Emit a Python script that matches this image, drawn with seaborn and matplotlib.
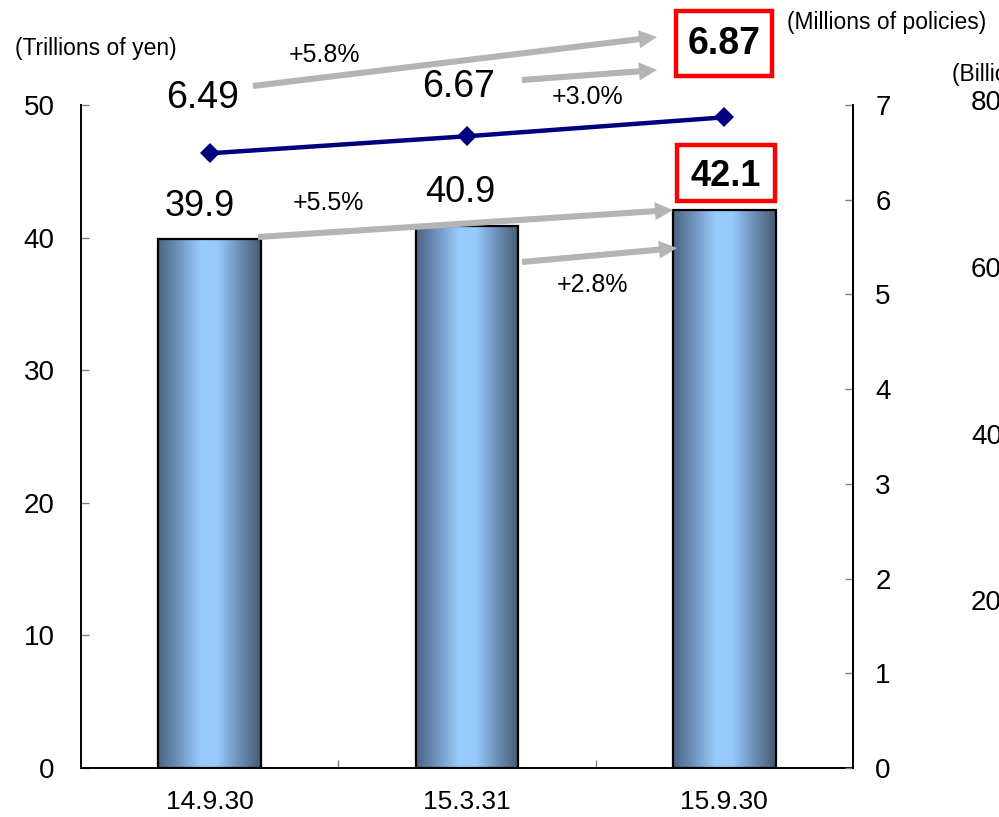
import numpy as np
import pandas as pd
import matplotlib
matplotlib.use("Agg")
import matplotlib.pyplot as plt
from matplotlib.colors import LinearSegmentedColormap
from matplotlib.patches import FancyArrowPatch, Rectangle
import seaborn as sns

# --- data ---
periods = ["14.9.30", "15.3.31", "15.9.30"]
assets_tn_yen = [39.9, 40.9, 42.1]          # left axis, trillions of yen
policies_mn = [6.49, 6.67, 6.87]            # right axis, millions of policies
assets_growth = ["+5.5%", "+2.8%"]
policies_growth = ["+5.8%", "+3.0%"]
left_ticks = [0, 10, 20, 30, 40, 50]
right_ticks = [0, 1, 2, 3, 4, 5, 6, 7]
side_ticks = ["800", "600", "400", "200"]

sns.set_theme(style="white")
plt.rcParams["font.family"] = ["Liberation Sans", "DejaVu Sans"]
plt.rcParams["text.color"] = "black"
plt.rcParams["axes.labelcolor"] = "black"

W, H = 999, 817
fig = plt.figure(figsize=(W / 100, H / 100), dpi=100)


def fx(px):
    return px / W


def fy(py):
    return 1 - py / H


ax = fig.add_axes([fx(81), fy(768), fx(853) - fx(81), fy(105) - fy(768)])

df = pd.DataFrame({"period": periods, "assets": assets_tn_yen})
sns.barplot(data=df, x="period", y="assets", ax=ax, width=0.4,
            color="#99ccff", edgecolor="black", linewidth=1.6, zorder=2)

# cylindrical shading across each bar
grad_cmap = LinearSegmentedColormap.from_list(
    "cyl", [(0.0, "#4a6483"), (0.2, "#6f94bd"), (0.42, "#99ccff"),
            (0.58, "#97c9fb"), (0.8, "#6a8db4"), (1.0, "#465a73")])
grad = np.linspace(0, 1, 256).reshape(1, -1)
for bar in ax.patches:
    x0, y0 = bar.get_x(), bar.get_y()
    w, h = bar.get_width(), bar.get_height()
    im = ax.imshow(grad, cmap=grad_cmap, aspect="auto",
                   extent=(x0, x0 + w, y0, y0 + h), zorder=2.5)
    im.set_clip_path(bar)
    bar.set_facecolor("none")
    bar.set_zorder(3)
ax.set_xlim(-0.5, 2.5)
ax.set_ylim(0, 50)

ax.set_xlabel("")
ax.set_ylabel("")
ax.set_yticks(left_ticks)
ax.tick_params(axis="y", direction="in", length=6, width=1, color="#808080",
               labelsize=20, pad=19, labelcolor="black", left=True)
ax.set_xticks(range(len(periods)))
ax.set_xticklabels(periods)
ax.tick_params(axis="x", which="major", length=0, labelsize=19, pad=16,
               labelcolor="black")
ax.set_xticks([0.5, 1.5], minor=True)
ax.tick_params(axis="x", which="minor", direction="in", length=6, width=1,
               color="#808080", bottom=True)
for side in ["left", "bottom", "right"]:
    ax.spines[side].set_visible(True)
    ax.spines[side].set_color("black")
    ax.spines[side].set_linewidth(1.4)
ax.spines["top"].set_visible(False)

# policies on the secondary axis
ax2 = ax.twinx()
sns.lineplot(x=list(range(len(periods))), y=policies_mn, ax=ax2, color="#000080",
             linewidth=3.2, marker="D", markersize=10, markeredgewidth=0,
             zorder=4)
ax2.set_ylim(0, 7)
ax2.set_xlim(-0.5, 2.5)
ax2.set_yticks(right_ticks)
ax2.tick_params(axis="y", direction="in", length=6, width=1, color="#808080",
                labelsize=20, pad=16, labelcolor="black", right=True)
ax2.set_ylabel("")
for side in ["left", "top", "bottom"]:
    ax2.spines[side].set_visible(False)
ax2.spines["right"].set_color("black")
ax2.spines["right"].set_linewidth(1.4)

# unit labels
fig.text(fx(15), fy(48), "(Trillions of yen)", fontsize=16.5, va="center", ha="left")
fig.text(fx(787), fy(22), "(Millions of policies)", fontsize=16.5, va="center", ha="left")
fig.text(fx(952), fy(75), "(Billions of yen)", fontsize=16.5, va="center", ha="left")
for lab, py in zip(side_ticks, [103, 270, 437, 603]):
    fig.text(fx(971), fy(py), lab, fontsize=20, va="center", ha="left")

# value labels
pol_pos = [(203, 98), (459, 87), (724, 44)]
ast_pos = [(200, 207), (460, 192), (726, 176)]
for i, (v, (px, py)) in enumerate(zip(policies_mn, pol_pos)):
    last = i == len(policies_mn) - 1
    fig.text(fx(px), fy(py), f"{v:.2f}", fontsize=27,
             fontweight="bold" if last else "normal", ha="center", va="center")
for i, (v, (px, py)) in enumerate(zip(assets_tn_yen, ast_pos)):
    last = i == len(assets_tn_yen) - 1
    fig.text(fx(px), fy(py), f"{v:.1f}", fontsize=26,
             fontweight="bold" if last else "normal", ha="center", va="center")

# highlight frames around the latest values
for (x0, y0, x1, y1) in [(676, 11, 772, 76), (677, 145, 775, 201)]:
    fig.add_artist(Rectangle((fx(x0), fy(y1)), fx(x1) - fx(x0), fy(y0) - fy(y1),
                             transform=fig.transFigure, fill=False,
                             edgecolor="#ff0000", linewidth=3.2, zorder=6))

# growth arrows
arrow_coords = [((253, 86), (657, 37)), ((522, 80), (657, 70)),
                ((258, 237), (673, 210)), ((522, 262), (677, 248))]
for (p0, p1) in arrow_coords:
    fig.add_artist(FancyArrowPatch(
        (fx(p0[0]), fy(p0[1])), (fx(p1[0]), fy(p1[1])),
        transform=fig.transFigure,
        arrowstyle="Simple,head_length=0.65,head_width=0.65,tail_width=0.22",
        mutation_scale=20, color="#b4b4b4", lw=0, shrinkA=0, shrinkB=0,
        zorder=5))

growth_pos = {"+5.8%": (324, 55), "+3.0%": (588, 97),
              "+5.5%": (328, 203), "+2.8%": (593, 285)}
for lab in policies_growth + assets_growth:
    px, py = growth_pos[lab]
    fig.text(fx(px), fy(py), lab, fontsize=18, ha="center", va="center")

fig.savefig("out.png", dpi=100, facecolor="white")
